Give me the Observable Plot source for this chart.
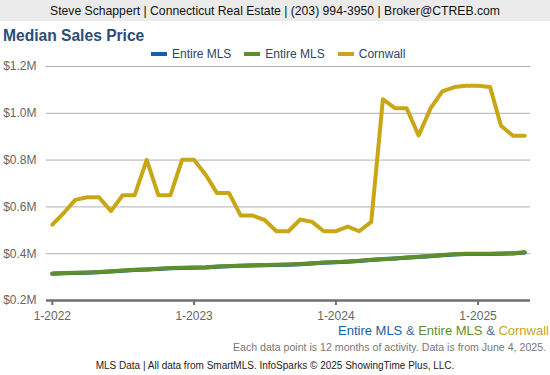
<!DOCTYPE html>
<html>
<head>
<meta charset="utf-8">
<script src="https://cdn.jsdelivr.net/npm/d3@7"></script>
<script src="https://cdn.jsdelivr.net/npm/@observablehq/plot@0.6"></script>
<style>
  html, body { margin: 0; padding: 0; background: #fff; }
  body { width: 550px; height: 375px; position: relative; overflow: hidden; font-family: "Liberation Sans", Arial, sans-serif; }
  .abs { position: absolute; white-space: nowrap; }
  #header { left: 0; top: 0; width: 550px; height: 21px; background: #ebebeb; text-align: center; font-size: 12.2px; line-height: 22px; color: #111; }
  #title { left: 3px; top: 27px; font-size: 15.6px; font-weight: bold; color: #2a4d78; }
  #legend { left: 151px; top: 47px; font-size: 12px; color: #2d4566; display: flex; align-items: center; }
  #legend span.sw { display: inline-block; width: 16px; height: 4px; margin-right: 5px; }
  #legend span.it { margin-right: 13px; display: inline-flex; align-items: center; }
  #chart { left: 0; top: 58px; }
  #series { right: 1px; top: 323px; font-size: 13px; }
  #note { right: 4px; top: 341px; font-size: 10.6px; color: #777; }
  #footer { left: 0; width: 550px; top: 360px; text-align: center; font-size: 10px; color: #222; }
</style>
</head>
<body>
<div id="header" class="abs">Steve Schappert | Connecticut Real Estate | (203) 994-3950 | Broker@CTREB.com</div>
<div id="title" class="abs">Median Sales Price</div>
<div id="legend" class="abs"></div>
<div id="chart" class="abs"></div>
<div id="series" class="abs"></div>
<div id="note" class="abs">Each data point is 12 months of activity. Data is from June 4, 2025.</div>
<div id="footer" class="abs">MLS Data | All data from SmartMLS. InfoSparks © 2025 ShowingTime Plus, LLC.</div>
<script>
// Month (12-month rolling period ending) for each data point
const months = [
  "2022-01","2022-02","2022-03","2022-04","2022-05","2022-06","2022-07","2022-08","2022-09","2022-10","2022-11","2022-12",
  "2023-01","2023-02","2023-03","2023-04","2023-05","2023-06","2023-07","2023-08","2023-09","2023-10","2023-11","2023-12",
  "2024-01","2024-02","2024-03","2024-04","2024-05","2024-06","2024-07","2024-08","2024-09","2024-10","2024-11","2024-12",
  "2025-01","2025-02","2025-03","2025-04","2025-05"
];
// Median sales price, $M
const entireMlsBlue = [
  0.314,0.316,0.318,0.319,0.321,0.324,0.327,0.330,0.332,0.335,0.338,0.339,
  0.340,0.341,0.344,0.346,0.348,0.350,0.351,0.352,0.353,0.355,0.358,0.361,
  0.363,0.366,0.369,0.373,0.376,0.379,0.383,0.386,0.389,0.393,0.397,0.399,
  0.399,0.399,0.400,0.401,0.405
];
const entireMlsGreen = [
  0.315,0.317,0.319,0.320,0.322,0.325,0.328,0.331,0.333,0.336,0.339,0.340,
  0.341,0.342,0.345,0.347,0.349,0.351,0.352,0.353,0.354,0.356,0.359,0.362,
  0.364,0.367,0.370,0.374,0.377,0.380,0.384,0.387,0.390,0.394,0.398,0.400,
  0.400,0.400,0.401,0.402,0.406
];
const cornwall = [
  0.524,0.577,0.630,0.641,0.641,0.582,0.650,0.650,0.801,0.650,0.650,0.801,
  0.801,0.734,0.659,0.659,0.563,0.563,0.545,0.496,0.496,0.546,0.536,0.496,
  0.496,0.516,0.496,0.536,1.060,1.022,1.022,0.905,1.022,1.094,1.112,1.118,
  1.118,1.112,0.947,0.904,0.904
];
const seriesNames = ["Entire MLS", "Entire MLS", "Cornwall"];
const seriesColors = ["#1660a9", "#5e8f2c", "#c8a615"];
const yTicks = [0.2, 0.4, 0.6, 0.8, 1.0, 1.2];
const xTickMonths = ["2022-01", "2023-01", "2024-01", "2025-01"];
const xTickLabels = ["1-2022", "1-2023", "1-2024", "1-2025"];

const parse = d3.utcParse("%Y-%m");
const dates = months.map(parse);
const allSeries = [entireMlsBlue, entireMlsGreen, cornwall];
const rows = allSeries.flatMap((vals, s) => vals.map((v, i) => ({date: dates[i], value: v, s})));
const xTicks = xTickMonths.map(parse);
const labelOf = new Map(xTicks.map((d, i) => [+d, xTickLabels[i]]));

const chart = Plot.plot({
  width: 550,
  height: 264,
  marginTop: 8,
  marginBottom: 22,
  marginLeft: 46,
  marginRight: 20,
  style: {fontFamily: "'Liberation Sans', Arial, sans-serif", fontSize: "12px", color: "#666", background: "transparent"},
  x: {type: "utc", domain: [new Date(Date.UTC(2021, 11, 17)), new Date(Date.UTC(2025, 4, 16))]},
  y: {domain: [0.2, 1.2]},
  marks: [
    Plot.gridY(yTicks.slice(1), {stroke: "#b0b0b0", strokeOpacity: 1, strokeWidth: 1}),
    Plot.axisY({ticks: yTicks, tickSize: 0, tickPadding: 10, fontSize: 12, fill: "#666", label: null,
      tickFormat: d => "$" + d.toFixed(1) + "M"}),
    Plot.ruleY([0.2], {stroke: "#6f6f6f", strokeWidth: 2.5}),
    Plot.axisX({ticks: xTicks, tickSize: 5, tickPadding: 6, stroke: "#6f6f6f", strokeWidth: 2, fontSize: 12, fill: "#666", label: null,
      tickFormat: d => labelOf.get(+d)}),
    ...allSeries.map((vals, s) => Plot.line(rows.filter(r => r.s === s), {
      x: "date", y: "value", stroke: seriesColors[s], strokeWidth: 4, strokeLinejoin: "round", strokeLinecap: "round"
    }))
  ]
});
document.getElementById("chart").appendChild(chart);

const legend = document.getElementById("legend");
seriesNames.forEach((n, i) => {
  const it = document.createElement("span");
  it.className = "it";
  it.innerHTML = `<span class="sw" style="background:${seriesColors[i]}"></span>${n}`;
  legend.appendChild(it);
});
const seriesLine = document.getElementById("series");
seriesLine.innerHTML = seriesNames.map((n, i) =>
  `<span style="color:${seriesColors[i]}">${n}</span>`).join(`<span style="color:#4b6e9b"> &amp; </span>`);
</script>
</body>
</html>
